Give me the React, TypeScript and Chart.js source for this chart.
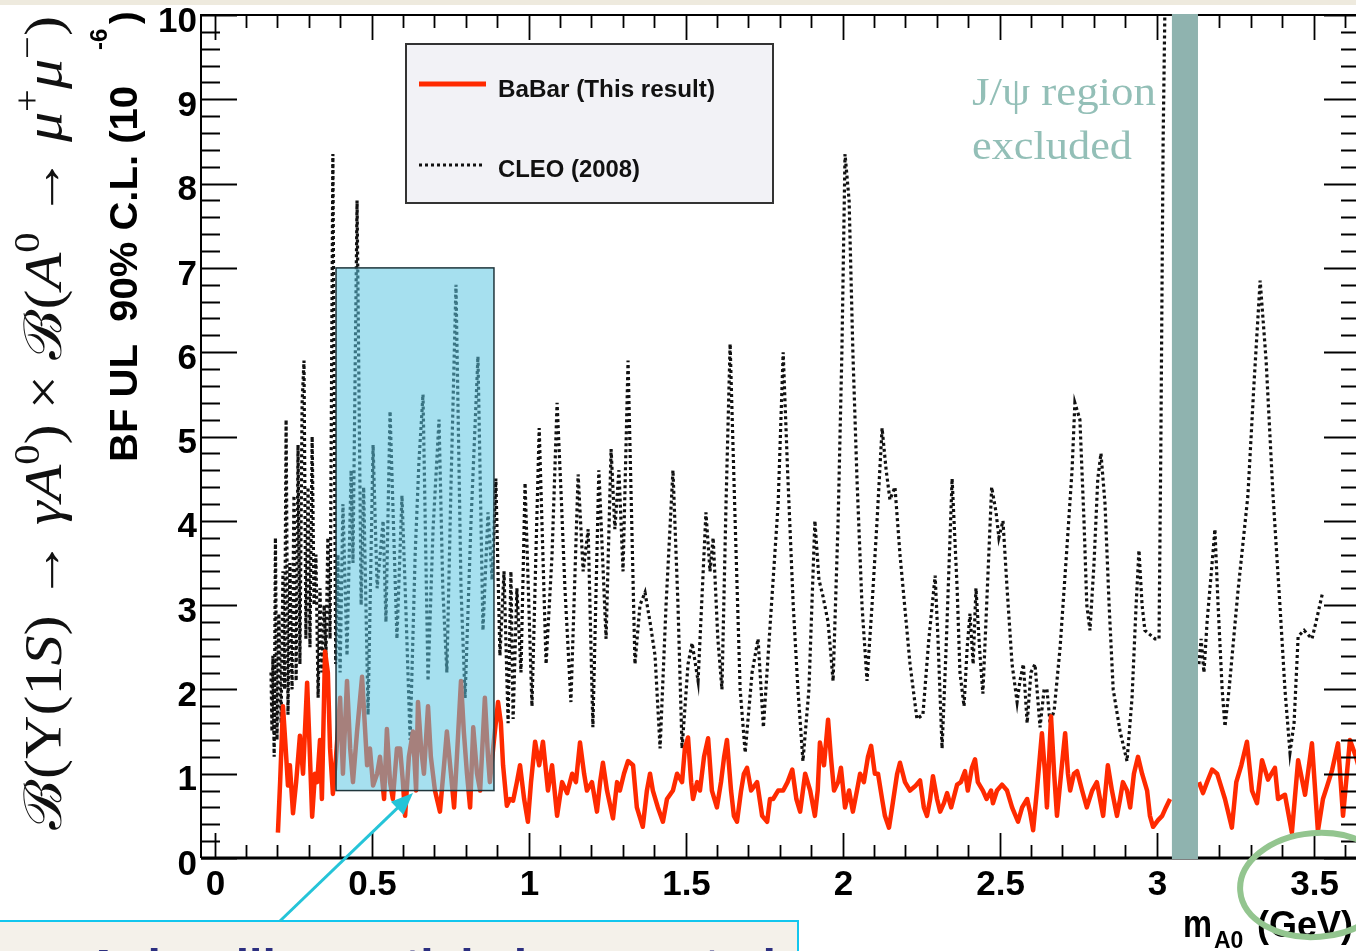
import React, { useEffect, useRef } from "react";
import { Chart, registerables } from "chart.js";
Chart.register(...registerables);

// ---------- axis ranges & tick labels ----------
const X_MIN = -0.043;
const X_MAX = 3.648;
const Y_MIN = 0;
const Y_MAX = 10;
const xTickLabels = ["0", "0.5", "1", "1.5", "2", "2.5", "3", "3.5"];
const yTickLabels = ["0", "1", "2", "3", "4", "5", "6", "7", "8", "9", "10"];

// ---------- BaBar (this result) : m_A0 [GeV], BF UL [1e-6] ----------
const babarMass = [
  0.202, 0.209, 0.218, 0.225, 0.234, 0.240, 0.250, 0.260, 0.272, 0.282,
  0.295, 0.304, 0.311, 0.320, 0.327, 0.336, 0.342, 0.352, 0.361, 0.368,
  0.377, 0.387, 0.400, 0.409, 0.422, 0.432, 0.441, 0.454, 0.470, 0.486,
  0.495, 0.505, 0.518, 0.527, 0.540, 0.549, 0.559, 0.568, 0.581, 0.591,
  0.600, 0.607, 0.619, 0.632, 0.642, 0.648, 0.658, 0.667, 0.680, 0.689,
  0.702, 0.718, 0.731, 0.740, 0.753, 0.763, 0.772, 0.785, 0.794, 0.804,
  0.814, 0.824, 0.836, 0.846, 0.861, 0.871, 0.877, 0.890, 0.903, 0.912,
  0.919, 0.931, 0.941, 0.951, 0.963, 0.973, 0.986, 0.998, 1.008, 1.021,
  1.034, 1.046, 1.062, 1.075, 1.091, 1.107, 1.123, 1.139, 1.151, 1.164,
  1.177, 1.186, 1.202, 1.218, 1.228, 1.237, 1.250, 1.269, 1.282, 1.291,
  1.304, 1.317, 1.333, 1.345, 1.364, 1.377, 1.387, 1.396, 1.412, 1.428,
  1.441, 1.460, 1.473, 1.489, 1.498, 1.508, 1.518, 1.524, 1.537, 1.546,
  1.559, 1.572, 1.584, 1.600, 1.613, 1.623, 1.632, 1.645, 1.654, 1.664,
  1.677, 1.686, 1.696, 1.709, 1.728, 1.744, 1.760, 1.769, 1.779, 1.795,
  1.811, 1.825, 1.840, 1.853, 1.865, 1.881, 1.897, 1.912, 1.921, 1.928,
  1.941, 1.954, 1.963, 1.973, 1.986, 1.995, 2.008, 2.021, 2.033, 2.046,
  2.056, 2.068, 2.081, 2.091, 2.103, 2.113, 2.126, 2.135, 2.148, 2.158,
  2.174, 2.183, 2.199, 2.215, 2.231, 2.247, 2.259, 2.269, 2.279, 2.288,
  2.301, 2.311, 2.323, 2.333, 2.346, 2.365, 2.377, 2.390, 2.399, 2.412,
  2.422, 2.431, 2.447, 2.459, 2.473, 2.479, 2.492, 2.508, 2.524, 2.540,
  2.559, 2.572, 2.588, 2.597, 2.607, 2.619, 2.635, 2.645, 2.651, 2.664,
  2.674, 2.683, 2.696, 2.709, 2.718, 2.725, 2.737, 2.747, 2.763, 2.778,
  2.795, 2.810, 2.820, 2.830, 2.845, 2.858, 2.874, 2.884, 2.893, 2.906,
  2.916, 2.928, 2.941, 2.954, 2.970, 2.979, 2.989, 3.005, 3.018, 3.030,
  3.043, 3.090,
  3.135, 3.148, 3.161, 3.177, 3.193, 3.218, 3.240, 3.254, 3.270, 3.288,
  3.304, 3.320, 3.336, 3.355, 3.377, 3.387, 3.409, 3.431, 3.451, 3.473,
  3.495, 3.514, 3.530, 3.543, 3.559, 3.578, 3.594, 3.616, 3.635, 3.650,
];
const babarUL = [
  0.30, 0.90, 1.80, 1.40, 0.86, 1.10, 0.53, 0.90, 1.45, 1.00,
  2.08, 1.20, 0.49, 1.00, 0.90, 1.40, 0.70, 2.45, 2.20, 1.30,
  0.76, 1.20, 1.90, 1.00, 2.10, 1.30, 0.90, 1.50, 2.15, 1.10,
  1.30, 0.86, 1.00, 1.20, 0.70, 1.53, 0.90, 0.70, 1.30, 1.30,
  0.90, 0.50, 1.20, 1.50, 0.80, 1.85, 1.30, 1.00, 1.80, 1.20,
  0.80, 0.55, 1.10, 1.50, 1.00, 0.60, 1.20, 2.10, 1.50, 1.00,
  0.60, 1.55, 1.00, 0.80, 1.90, 1.20, 0.90, 1.40, 1.85, 1.60,
  1.10, 0.62, 0.70, 0.68, 0.90, 1.10, 0.70, 0.43, 0.90, 1.38,
  1.10, 1.38, 0.80, 1.10, 0.50, 0.90, 0.77, 1.00, 0.90, 1.37,
  1.00, 0.80, 0.90, 0.55, 0.90, 1.13, 0.80, 0.47, 0.90, 0.80,
  1.00, 1.15, 1.10, 0.60, 0.37, 0.80, 1.00, 0.80, 0.60, 0.43,
  0.70, 0.80, 1.00, 0.90, 1.30, 1.43, 0.90, 0.70, 0.90, 0.80,
  1.20, 1.42, 0.80, 0.60, 0.90, 1.20, 1.40, 0.80, 0.50, 0.43,
  0.80, 1.00, 1.07, 0.80, 0.90, 0.50, 0.43, 0.70, 0.70, 0.80,
  0.80, 0.90, 1.05, 0.70, 0.55, 1.00, 0.80, 0.50, 0.80, 1.37,
  1.10, 1.64, 1.20, 0.80, 0.90, 1.07, 0.60, 0.80, 0.55, 0.80,
  1.00, 0.90, 1.20, 1.33, 1.00, 1.00, 0.70, 0.50, 0.36, 0.60,
  1.00, 1.13, 0.90, 0.80, 0.85, 0.92, 0.60, 0.50, 0.70, 0.97,
  0.70, 0.55, 0.65, 0.77, 0.60, 0.87, 0.90, 1.03, 0.80, 1.07,
  1.17, 0.90, 0.80, 0.70, 0.80, 0.65, 0.80, 0.87, 0.80, 0.60,
  0.43, 0.60, 0.70, 0.55, 0.33, 0.80, 1.48, 1.00, 0.60, 1.68,
  1.00, 0.50, 1.00, 1.48, 1.00, 0.80, 1.00, 1.03, 0.80, 0.60,
  0.80, 0.90, 0.70, 0.50, 1.10, 0.80, 0.50, 0.70, 0.90, 0.80,
  0.60, 1.00, 1.20, 1.00, 0.80, 0.50, 0.37, 0.45, 0.50, 0.60,
  0.70, null,
  0.90, 0.77, 0.90, 1.05, 1.00, 0.70, 0.36, 0.90, 1.10, 1.38,
  0.80, 0.65, 1.16, 0.93, 1.07, 0.70, 0.75, 0.30, 1.16, 0.75,
  1.36, 0.32, 0.70, 0.85, 1.04, 1.36, 0.50, 1.40, 1.20, 1.00,
];

// ---------- CLEO (2008) ----------
const cleoMass = [
  0.180, 0.183, 0.186, 0.190, 0.194, 0.199, 0.205, 0.212, 0.218, 0.223,
  0.228, 0.234, 0.240, 0.247, 0.253, 0.260, 0.266, 0.272, 0.279, 0.285,
  0.291, 0.298, 0.304, 0.311, 0.317, 0.323, 0.330, 0.336, 0.342, 0.349,
  0.355, 0.361, 0.368, 0.377, 0.386, 0.393, 0.400, 0.409, 0.422, 0.435,
  0.441, 0.454, 0.467, 0.475, 0.489, 0.505, 0.518, 0.537, 0.546, 0.559,
  0.581, 0.597, 0.610, 0.623, 0.639, 0.651, 0.664, 0.680, 0.696, 0.715,
  0.727, 0.740, 0.753, 0.769, 0.785, 0.798, 0.817, 0.839, 0.855, 0.871,
  0.884, 0.896, 0.909, 0.922, 0.935, 0.944, 0.951, 0.963, 0.976, 0.989,
  1.011, 1.034, 1.056, 1.075, 1.091, 1.104, 1.116, 1.135, 1.158, 1.174,
  1.190, 1.205, 1.224, 1.247, 1.263, 1.275, 1.288, 1.301, 1.317, 1.339,
  1.355, 1.371, 1.387, 1.403, 1.419, 1.438, 1.460, 1.476, 1.489, 1.508,
  1.521, 1.540, 1.565, 1.578, 1.588, 1.603, 1.616, 1.629, 1.642, 1.658,
  1.674, 1.690, 1.712, 1.731, 1.748, 1.763, 1.779, 1.795, 1.811, 1.825,
  1.843, 1.858, 1.874, 1.893, 1.912, 1.925, 1.938, 1.954, 1.970, 1.986,
  1.998, 2.008, 2.021, 2.033, 2.046, 2.062, 2.078, 2.094, 2.110, 2.126,
  2.139, 2.151, 2.167, 2.183, 2.199, 2.215, 2.237, 2.256, 2.275, 2.295,
  2.304, 2.317, 2.330, 2.349, 2.365, 2.374, 2.387, 2.397, 2.406, 2.416,
  2.425, 2.438, 2.447, 2.459, 2.475, 2.489, 2.498, 2.511, 2.524, 2.540,
  2.556, 2.565, 2.576, 2.588, 2.600, 2.613, 2.629, 2.642, 2.651, 2.661,
  2.674, 2.693, 2.715, 2.731, 2.740, 2.756, 2.769, 2.778, 2.788, 2.801,
  2.813, 2.823, 2.836, 2.849, 2.862, 2.884, 2.906, 2.922, 2.935, 2.944,
  2.954, 2.963, 2.979, 2.995, 3.008, 3.014, 3.021, 3.030, 3.040, 3.090,
  3.135, 3.142, 3.151, 3.161, 3.177, 3.186, 3.196, 3.209, 3.218, 3.231,
  3.259, 3.291, 3.310, 3.330, 3.349, 3.371, 3.393, 3.409, 3.425, 3.438,
  3.451, 3.470, 3.495, 3.508, 3.529,
];
const cleoUL = [
  2.2, 1.5, 2.4, 1.2, 3.8, 1.4, 2.9, 1.6, 3.4, 2.0,
  5.2, 1.7, 3.5, 2.0, 4.3, 2.1, 4.9, 2.3, 5.4, 5.9,
  2.6, 4.4, 2.5, 5.0, 3.0, 3.6, 1.9, 3.2, 2.2, 3.0,
  2.4, 3.8, 2.6, 8.35, 2.3, 3.6, 2.2, 4.2, 2.4, 4.6,
  3.5, 7.8, 3.0, 4.4, 1.7, 4.9, 3.2, 4.0, 2.8, 5.3,
  2.6, 4.3, 2.9, 1.4, 3.6, 4.7, 5.5, 2.1, 3.9, 5.2,
  3.2, 2.2, 4.4, 6.8, 3.2, 1.9, 4.0, 5.95, 2.7, 4.1,
  3.3, 4.5, 2.4, 3.4, 1.6, 3.4, 1.65, 3.2, 2.2, 4.45,
  1.8, 5.1, 2.3, 3.6, 5.4, 4.3, 3.2, 1.85, 4.55, 3.4,
  3.9, 1.55, 4.6, 2.6, 4.85, 3.9, 4.6, 3.4, 5.9, 2.3,
  3.0, 3.15, 2.8, 2.4, 1.3, 3.0, 4.6, 3.0, 1.3, 2.3,
  2.55, 2.1, 4.1, 3.4, 3.8, 2.6, 2.0, 4.2, 6.1, 4.0,
  2.0, 1.25, 2.2, 2.6, 1.55, 2.4, 3.3, 4.2, 6.0, 4.6,
  3.0, 2.0, 1.15, 2.0, 4.0, 3.3, 3.1, 2.8, 2.1, 4.0,
  6.0, 8.35, 7.8, 6.0, 4.5, 3.0, 2.1, 3.0, 4.0, 5.1,
  4.6, 4.25, 4.4, 3.6, 2.95, 2.3, 1.65, 1.7, 2.6, 3.35,
  2.6, 1.3, 2.5, 4.5, 3.2, 2.2, 1.8, 2.5, 2.9, 2.3,
  3.2, 2.4, 1.95, 3.0, 4.4, 4.1, 3.8, 4.0, 3.2, 2.3,
  1.85, 2.1, 2.3, 1.6, 2.2, 2.3, 1.55, 2.0, 2.0, 1.6,
  1.75, 2.5, 3.7, 4.6, 5.4, 5.2, 4.0, 3.0, 2.7, 3.5,
  4.5, 4.8, 4.2, 3.0, 2.0, 1.5, 1.15, 1.9, 3.0, 3.65,
  3.0, 2.7, 2.65, 2.6, 2.6, 5.0, 8.5, 11, 12, null,
  2.3, 2.6, 2.2, 2.8, 3.5, 3.9, 3.0, 2.0, 1.56, 2.0,
  3.15, 4.3, 5.6, 6.85, 5.9, 4.3, 3.0, 2.0, 1.25, 1.6,
  2.63, 2.7, 2.6, 2.8, 3.15,
];

// ---------- annotations (data coordinates) ----------
const jpsiBand = [3.049, 3.132];
const highlightX = [0.387, 0.89];
const highlightY = [0.8, 7.0];

const W = 1364;
const H = 951;

const SANS = "'Liberation Sans', Arial, Helvetica, sans-serif";
const SERIF = "'Liberation Serif', 'DejaVu Serif', 'Times New Roman', serif";

function fitText(ctx: CanvasRenderingContext2D, text: string, x: number, y: number, width: number) {
  const w = ctx.measureText(text).width;
  ctx.save();
  ctx.translate(x, y);
  ctx.scale(width / w, 1);
  ctx.fillText(text, 0, 0);
  ctx.restore();
}

const rootStylePlugin = {
  id: "rootStyle",
  afterDatasetsDraw(chart: any) {
    const { ctx, chartArea: a, scales } = chart;
    const xs = scales.x;
    const ys = scales.y;
    ctx.save();

    // highlighted region (semi transparent)
    const bx0 = xs.getPixelForValue(highlightX[0]);
    const bx1 = xs.getPixelForValue(highlightX[1]);
    const by0 = ys.getPixelForValue(highlightY[1]);
    const by1 = ys.getPixelForValue(highlightY[0]);
    ctx.fillStyle = "rgba(92,198,226,0.55)";
    ctx.fillRect(bx0, by0, bx1 - bx0, by1 - by0);
    ctx.strokeStyle = "#20363c";
    ctx.lineWidth = 1.5;
    ctx.strokeRect(bx0, by0, bx1 - bx0, by1 - by0);

    // frame
    ctx.strokeStyle = "#000";
    ctx.lineWidth = 2;
    ctx.beginPath();
    ctx.moveTo(a.left, a.bottom);
    ctx.lineTo(a.left, a.top);
    ctx.lineTo(a.right, a.top);
    ctx.lineTo(a.right, a.bottom);
    ctx.stroke();
    ctx.lineWidth = 3;
    ctx.beginPath();
    ctx.moveTo(a.left, a.bottom);
    ctx.lineTo(a.right, a.bottom);
    ctx.stroke();

    // ticks
    ctx.lineWidth = 1.8;
    ctx.beginPath();
    for (let i = 0; i <= 36; i++) {
      const px = Math.round(xs.getPixelForValue(i / 10)) + 0.5;
      const len = i % 5 === 0 ? 25 : 13;
      ctx.moveTo(px, a.bottom);
      ctx.lineTo(px, a.bottom - len);
      ctx.moveTo(px, a.top);
      ctx.lineTo(px, a.top + len);
    }
    for (let i = 0; i <= 50; i++) {
      const py = Math.round(ys.getPixelForValue(i / 5)) + 0.5;
      const len = i % 5 === 0 ? 36 : 19;
      ctx.moveTo(a.left, py);
      ctx.lineTo(a.left + len, py);
      ctx.moveTo(a.right, py);
      ctx.lineTo(a.right - len, py);
    }
    ctx.stroke();

    // J/psi excluded band
    const jx0 = xs.getPixelForValue(jpsiBand[0]);
    const jx1 = xs.getPixelForValue(jpsiBand[1]);
    ctx.fillStyle = "#8fb3af";
    ctx.fillRect(jx0, a.top - 1, jx1 - jx0, a.bottom - a.top + 2);

    ctx.restore();
  },
  afterDraw(chart: any) {
    const { ctx, scales } = chart;
    const xs = scales.x;
    const ys = scales.y;
    ctx.save();

    // tick labels
    ctx.fillStyle = "#000";
    ctx.font = `bold 35px ${SANS}`;
    ctx.textAlign = "center";
    ctx.textBaseline = "middle";
    xTickLabels.forEach((t) => {
      ctx.fillText(t, xs.getPixelForValue(parseFloat(t)) + 1, 885);
    });
    ctx.textAlign = "right";
    yTickLabels.forEach((t) => {
      ctx.fillText(t, 197, ys.getPixelForValue(parseFloat(t)) + 7);
    });

    // y title (ROOT)
    ctx.save();
    ctx.translate(137, 462);
    ctx.rotate(-Math.PI / 2);
    ctx.textAlign = "left";
    ctx.textBaseline = "alphabetic";
    ctx.font = `bold 38px ${SANS}`;
    fitText(ctx, "BF UL  90% C.L. (10", 0, 0, 376);
    ctx.font = `bold 24px ${SANS}`;
    ctx.fillText("-6", 412, -30);
    ctx.font = `bold 38px ${SANS}`;
    ctx.fillText(")", 438, 0);
    ctx.restore();

    // y title (LaTeX style)
    ctx.save();
    ctx.translate(61, 830);
    ctx.rotate(-Math.PI / 2);
    ctx.textBaseline = "alphabetic";
    ctx.textAlign = "left";
    const base = 52;
    const segs: [string, string][] = [
      ["\u212C", "n"], ["(", "n"], ["\u03A5", "n"], ["(1", "n"], ["S", "i"], [")", "n"],
      [" \u2192 ", "n"], ["\u03B3", "i"], ["A", "i"], ["0", "s"], [")", "n"],
      [" \u00D7 ", "n"], ["\u212C", "n"], ["(", "n"], ["A", "i"], ["0", "s"],
      [" \u2192 ", "n"], ["\u03BC", "i"], ["+", "s"], ["\u03BC", "i"], ["\u2212", "s"], [")", "n"],
    ];
    const fontOf = (k: string) =>
      k === "i" ? `italic ${base}px ${SERIF}` : k === "s" ? `${Math.round(base * 0.68)}px ${SERIF}` : `${base}px ${SERIF}`;
    let total = 0;
    segs.forEach(([t, k]) => {
      ctx.font = fontOf(k);
      total += ctx.measureText(t).width;
    });
    ctx.scale(814 / total, 1);
    ctx.fillStyle = "#111";
    let cx = 0;
    segs.forEach(([t, k]) => {
      ctx.font = fontOf(k);
      ctx.fillText(t, cx, k === "s" ? -base * 0.42 : 0);
      cx += ctx.measureText(t).width;
    });
    ctx.restore();

    // x title
    ctx.fillStyle = "#000";
    ctx.textAlign = "left";
    ctx.textBaseline = "alphabetic";
    ctx.font = `bold 38px ${SANS}`;
    fitText(ctx, "m", 1183, 937, 29);
    ctx.font = `bold 23px ${SANS}`;
    ctx.fillText("A0", 1214, 948);
    ctx.font = `bold 36px ${SANS}`;
    ctx.fillText("(GeV)", 1257, 937);

    // legend
    ctx.fillStyle = "#f2f2f6";
    ctx.fillRect(406, 44, 367, 159);
    ctx.strokeStyle = "#333";
    ctx.lineWidth = 2;
    ctx.strokeRect(406, 44, 367, 159);
    ctx.strokeStyle = "#ff2a00";
    ctx.lineWidth = 5;
    ctx.beginPath();
    ctx.moveTo(419, 84);
    ctx.lineTo(486, 84);
    ctx.stroke();
    ctx.strokeStyle = "#111";
    ctx.lineWidth = 3;
    ctx.setLineDash([3, 3]);
    ctx.beginPath();
    ctx.moveTo(419, 165);
    ctx.lineTo(484, 165);
    ctx.stroke();
    ctx.setLineDash([]);
    ctx.fillStyle = "#111";
    ctx.font = `bold 23px ${SANS}`;
    fitText(ctx, "BaBar (This result)", 498, 97, 217);
    fitText(ctx, "CLEO (2008)", 498, 177, 142);

    // J/psi text
    ctx.fillStyle = "#93bfb7";
    ctx.font = `40px ${SERIF}`;
    fitText(ctx, "J/\u03C8 region", 972, 105, 184);
    fitText(ctx, "excluded", 972, 159, 160);

    // callout box at bottom
    ctx.fillStyle = "#f4f1ea";
    ctx.fillRect(-3, 921, 801, 40);
    ctx.strokeStyle = "#12c6ee";
    ctx.lineWidth = 2;
    ctx.strokeRect(-3, 921, 801, 40);
    ctx.fillStyle = "#2c2f80";
    ctx.font = `bold 42px ${SANS}`;
    fitText(ctx, "Axion-like particle is expected", 86, 979, 690);

    // arrow
    const ax0 = 280, ay0 = 921, ax1 = 413, ay1 = 793;
    const ang = Math.atan2(ay1 - ay0, ax1 - ax0);
    ctx.strokeStyle = "#25c4d8";
    ctx.fillStyle = "#25c4d8";
    ctx.lineWidth = 3;
    ctx.beginPath();
    ctx.moveTo(ax0, ay0);
    ctx.lineTo(ax1 - 16 * Math.cos(ang), ay1 - 16 * Math.sin(ang));
    ctx.stroke();
    ctx.beginPath();
    ctx.moveTo(ax1, ay1);
    ctx.lineTo(ax1 - 22 * Math.cos(ang) + 9 * Math.sin(ang), ay1 - 22 * Math.sin(ang) - 9 * Math.cos(ang));
    ctx.lineTo(ax1 - 22 * Math.cos(ang) - 9 * Math.sin(ang), ay1 - 22 * Math.sin(ang) + 9 * Math.cos(ang));
    ctx.closePath();
    ctx.fill();

    // green ellipse
    ctx.strokeStyle = "#93c58f";
    ctx.lineWidth = 6;
    ctx.beginPath();
    ctx.ellipse(1316, 885, 76, 52, -0.08, 0, Math.PI * 2);
    ctx.stroke();

    // slide background strip on top
    ctx.fillStyle = "#eeeade";
    ctx.fillRect(0, 0, W, 5);

    ctx.restore();
  },
};

export default function App() {
  const ref = useRef<HTMLCanvasElement | null>(null);
  useEffect(() => {
    if (!ref.current) return;
    const chart = new Chart(ref.current, {
      type: "line",
      data: {
        datasets: [
          {
            label: "BaBar (This result)",
            data: babarMass.map((m, i) => ({ x: m, y: babarUL[i] as any })),
            borderColor: "#ff2a00",
            borderWidth: 4.5,
            pointRadius: 0,
            tension: 0,
            spanGaps: false,
            borderJoinStyle: "round",
          },
          {
            label: "CLEO (2008)",
            data: cleoMass.map((m, i) => ({ x: m, y: cleoUL[i] as any })),
            borderColor: "#111",
            borderWidth: 3.2,
            borderDash: [3, 3],
            pointRadius: 0,
            tension: 0,
            spanGaps: false,
          },
        ],
      },
      options: {
        animation: false,
        responsive: false,
        devicePixelRatio: 1,
        layout: { padding: { left: 201, top: 15, right: 4, bottom: 93 } },
        scales: {
          x: { type: "linear", min: X_MIN, max: X_MAX, display: false },
          y: { type: "linear", min: Y_MIN, max: Y_MAX, display: false },
        },
        plugins: { legend: { display: false }, tooltip: { enabled: false } },
      },
      plugins: [rootStylePlugin],
    } as any);
    return () => chart.destroy();
  }, []);
  return (
    <div
      style={{
        position: "fixed",
        left: 0,
        top: 0,
        width: 1356,
        height: 951,
        overflow: "hidden",
        background: "#fff",
      }}
    >
      <canvas ref={ref} width={W} height={H} style={{ display: "block", width: W, height: H }} />
    </div>
  );
}
